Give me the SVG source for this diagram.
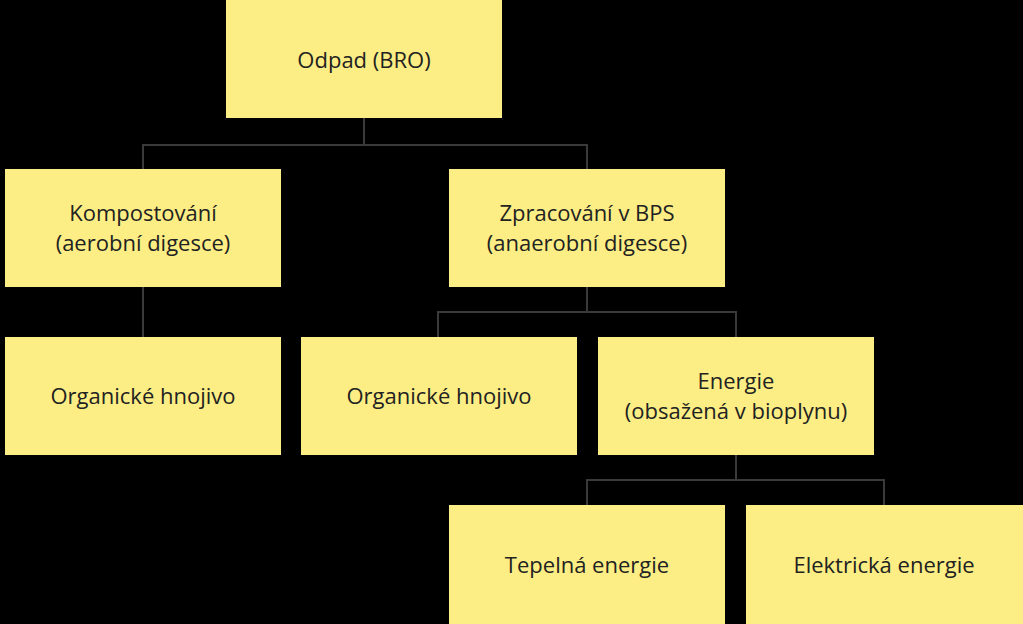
<svg xmlns="http://www.w3.org/2000/svg" width="1023" height="624" viewBox="0 0 1023 624">
<style>
.b{fill:#fcee84}
.t{font-family:"Open Sans","Liberation Sans",sans-serif;font-size:22px;fill:#222;text-anchor:middle}
.c{stroke:#3a3a3a;stroke-width:2;fill:none}
</style>
<rect width="1023" height="624" fill="#000"/>
<g id="connectors">
<path class="c" d="M364 118V145M143 169V145H587V169M143 287V337M587 287V312M438 337V312H736V337M736 455V480M587 505V480H884V505"/>
</g>
<g id="n1"><rect class="b" x="226" y="0" width="276" height="118"/><text class="t" x="364" y="68">Odpad (BRO)</text></g>
<g id="n2"><rect class="b" x="5" y="169" width="276" height="118"/><text class="t" x="143" y="221">Kompostování</text><text class="t" x="143" y="251">(aerobní digesce)</text></g>
<g id="n3"><rect class="b" x="449" y="169" width="276" height="118"/><text class="t" x="587" y="221">Zpracování v BPS</text><text class="t" x="587" y="251">(anaerobní digesce)</text></g>
<g id="n4"><rect class="b" x="5" y="337" width="276" height="118"/><text class="t" x="143" y="404">Organické hnojivo</text></g>
<g id="n5"><rect class="b" x="301" y="337" width="276" height="118"/><text class="t" x="439" y="404">Organické hnojivo</text></g>
<g id="n6"><rect class="b" x="598" y="337" width="276" height="118"/><text class="t" x="736" y="389">Energie</text><text class="t" x="736" y="419">(obsažená v bioplynu)</text></g>
<g id="n7"><rect class="b" x="449" y="505" width="276" height="119"/><text class="t" x="587" y="573">Tepelná energie</text></g>
<g id="n8"><rect class="b" x="746" y="505" width="277" height="119"/><text class="t" x="884" y="573">Elektrická energie</text></g>
</svg>
